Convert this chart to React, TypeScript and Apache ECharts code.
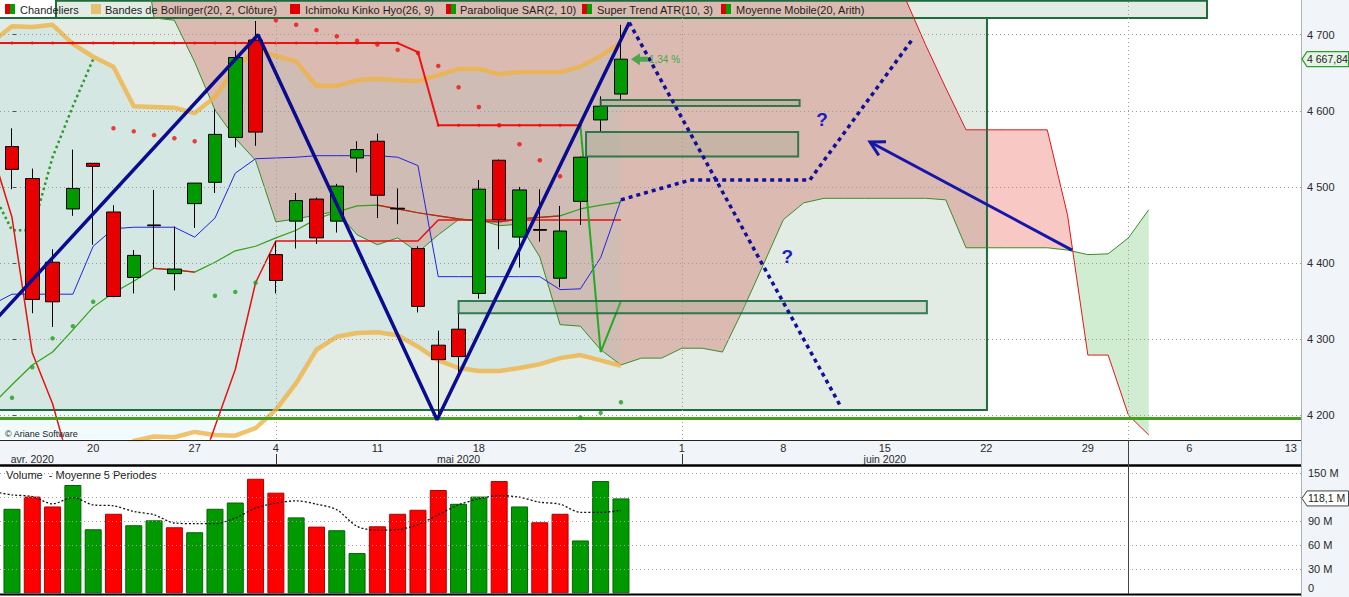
import React, { useEffect, useRef } from 'react';
import * as echarts from 'echarts';

const FONT = '"Liberation Sans", Arial, Helvetica, sans-serif';

// ---------- axes ----------
const X_MIN = -0.59;
const X_MAX = 63.5;
const P_MIN = 4168.7;
const P_MAX = 4745.6;
const V_MAX = 162.2;
const dayTickIdx = [4, 9, 13, 18, 23, 28, 33, 38, 43, 48, 53, 58, 63];
const dayTickText = ['20', '27', '4', '11', '18', '25', '1', '8', '15', '22', '29', '6', '13'];
const monthLabelIdx = [1, 22, 43];
const monthLabelText = ['avr. 2020', 'mai 2020', 'juin 2020'];
const monthStartIdx = [13, 33, 55];
const priceTicks = [4200, 4300, 4400, 4500, 4600, 4700];
const volumeTicks = [0, 30, 60, 90, 150];
const volumeGridValues = [30, 60, 90, 120, 150];

// ---------- candles (index 0 = 14 avr. 2020) ----------
const candleOpen = [4553, 4511, 4401, 4471, 4531, 4467, 4381, 4450, 4386, 4478, 4506, 4565, 4693, 4411, 4455, 4484, 4455, 4538, 4560, 4472, 4419, 4292, 4313, 4360, 4535, 4434, 4444, 4380, 4481, 4588, 4622];
const candleClose = [4523, 4352, 4349, 4498, 4527, 4356, 4410, 4449, 4392, 4505, 4569, 4670, 4572, 4377, 4482, 4433, 4501, 4549, 4489, 4471, 4343, 4273, 4277, 4497, 4457, 4496, 4443, 4442, 4539, 4606, 4667.84];
const candleLow = [4497, 4334, 4316, 4462, 4424, 4355, 4360, 4393, 4364, 4446, 4492, 4552, 4554, 4360, 4419, 4425, 4440, 4519, 4459, 4451, 4335, 4197, 4253, 4353, 4418, 4394, 4428, 4368, 4450, 4573, 4614];
const candleHigh = [4577, 4524, 4418, 4549, 4531, 4476, 4417, 4496, 4448, 4505, 4602, 4679, 4718, 4428, 4492, 4486, 4504, 4560, 4570, 4498, 4422, 4311, 4334, 4509, 4536, 4500, 4497, 4475, 4540, 4619, 4713];

// ---------- volume (millions) ----------
const volume = [105.2, 120.4, 108.1, 134.8, 79.7, 99.0, 84.7, 90.8, 82.2, 76.0, 105.2, 113.0, 142.6, 125.3, 94.5, 83.0, 78.5, 50.1, 83.4, 99.0, 104.0, 128.6, 111.4, 120.4, 139.7, 108.1, 88.4, 99.0, 65.8, 139.7, 118.1];
const volumeUp = [1, 0, 0, 1, 1, 0, 1, 1, 0, 1, 1, 1, 0, 0, 1, 0, 1, 1, 0, 0, 0, 0, 1, 1, 0, 1, 0, 0, 1, 1, 1];
const VOL_MA_START = -1;
const volumeMA5 = [127, 122.5, 120.4, 111.4, 119.2, 110.1, 108.9, 101.9, 97.8, 87.5, 86.7, 86.7, 93.7, 106.0, 112.2, 115.1, 111.0, 104.0, 83.4, 78.5, 79.3, 85.5, 97.8, 110.1, 117.5, 121.6, 119.6, 113.4, 111.0, 100.7, 100.7, 103.2];

// ---------- indicators (start index -1) ----------
const LINE_START = -1;
const tenkan = [4345, 4359, 4359, 4359, 4359, 4422, 4445, 4447, 4447, 4447, 4434, 4459, 4518, 4537, 4538, 4539, 4541, 4541, 4541, 4541, 4539, 4528, 4382, 4382, 4382, 4382, 4382, 4382, 4365, 4366, 4407, 4483];
const kijun = [4548, 4460, 4282, 4215, 4120, 4100, 4100, 4100, 4100, 4100, 4110, 4185, 4260, 4374, 4429, 4429, 4429, 4429, 4429, 4429, 4429, 4429, 4456.5, 4456.5, 4456.5, 4456.5, 4456.5, 4456.5, 4456.5, 4456.5, 4456.5, 4456.5];
const bbUpper = [4690, 4711, 4710, 4713, 4688, 4671, 4658, 4606, 4605, 4604, 4597, 4618, 4656, 4680, 4672, 4665, 4633, 4633, 4640, 4642, 4640, 4639, 4647, 4655, 4655, 4648, 4651, 4651, 4651, 4658, 4672, 4690];
const bbLower = [4000, 3980, 4000, 4050, 4100, 4130, 4150, 4166, 4172, 4171, 4178, 4174, 4173, 4183, 4207, 4242, 4286, 4303, 4308, 4309, 4305, 4290, 4272, 4262, 4258, 4258, 4262, 4267, 4275, 4279, 4272, 4265];
const ma20 = [4213, 4240, 4266, 4283, 4312, 4342, 4361, 4376, 4393, 4391, 4388, 4401, 4416, 4422, 4433, 4443, 4458, 4467, 4475, 4476, 4471, 4466, 4462, 4458, 4455, 4454, 4458, 4460, 4462, 4471, 4476, 4480];
const ma20FallingRanges = [[7, 9], [18, 27]];
const CHIKOU_START = -2;
const chikou = [4457, 4496, 4443, 4443, 4539, 4606, 4667.84];
const SS_START = -1;
const senkouA = [5150, 5100, 5050, 5000, 4980, 4950, 4920, 4900, 4722, 4719, 4664, 4601, 4564, 4535, 4454, 4458, 4463, 4468, 4437, 4424, 4433, 4414, 4437, 4457, 4457, 4449, 4451, 4408, 4319, 4317, 4286, 4266, 4275, 4275, 4288, 4288, 4283, 4338, 4397, 4457, 4479, 4485, 4485, 4485, 4485, 4485, 4485, 4483, 4420, 4420, 4420, 4420, 4420, 4417, 4411, 4412, 4433, 4470];
const senkouB = [5600, 5600, 5580, 5560, 5540, 5520, 5500, 5480, 5460, 5440, 5420, 5400, 5380, 5360, 5340, 5320, 5300, 5280, 5260, 5240, 5220, 5200, 5180, 5160, 5140, 5120, 5100, 5080, 5060, 5040, 5020, 5000, 5000, 5000, 5000, 5000, 5000, 5000, 5000, 5000, 5000, 5000, 5000, 5000, 4850, 4748, 4687, 4630, 4575, 4575, 4575, 4575, 4575, 4463, 4279, 4279, 4200, 4174];
const ST_RED_START = -1;
const superTrendRed = [4689, 4689, 4689, 4689, 4689, 4689, 4689, 4689, 4689, 4689, 4689, 4689, 4689, 4689, 4689, 4689, 4689, 4689, 4689, 4689, 4689, 4677, 4581, 4581, 4581, 4581, 4581, 4581, 4581, 4581];
const ST_GREEN_START = 28;
const superTrendGreen = [4581, 4283, 4350];
const sarValue = [4223, 4263, 4301, 4317, 4349, 4577, 4573, 4568, 4564, 4560, 4357, 4362, 4374, 4719, 4713, 4706, 4698, 4692, 4687, 4680, 4676, 4659, 4631, 4605, 4581, 4556, 4535, 4514, 4197, 4203, 4217];
const sarUp = [1, 1, 1, 1, 1, 0, 0, 0, 0, 0, 1, 1, 1, 0, 0, 0, 0, 0, 0, 0, 0, 0, 0, 0, 0, 0, 0, 0, 1, 1, 1];

// ---------- drawings ----------
const supportLevel = 4196;
const zigzag = [[-1.58, 4303], [12.12, 4700], [20.94, 4194], [30.41, 4716]];
const dottedDown = [[30.41, 4716], [40.79, 4213]];
const dottedPath = [[30.0, 4483], [33.4, 4509], [39.3, 4509], [44.33, 4693]];
const arrowLine = [[52.22, 4417, 42.27, 4559]];
const questionMarks = [[39.9, 4589], [38.2, 4408]];
const pctLabel = [[30.49, 4667.84]];
const bigRects = [[-3, 4206.8, 48.03, 4722], [2.17, 4722, 58.87, 4744.5]];
const smallRects = [[29.0, 4606.3, 38.8, 4614.2], [28.28, 4540, 38.73, 4572], [22.0, 4334, 45.07, 4350]];

const legendItems = [
  { colors: ['#e00000', '#00a000'], iconX: 5, text: 'Chandeliers', textX: 20 },
  { colors: ['#e8c074'], iconX: 91, text: 'Bandes de Bollinger(20, 2, Clôture)', textX: 105 },
  { colors: ['#e00000'], iconX: 290, text: 'Ichimoku Kinko Hyo(26, 9)', textX: 305 },
  { colors: ['#e00000', '#00a000'], iconX: 446, text: 'Parabolique SAR(2, 10)', textX: 460 },
  { colors: ['#e00000', '#00a000'], iconX: 582, text: 'Super Trend ATR(10, 3)', textX: 597 },
  { colors: ['#e00000', '#00a000'], iconX: 721, text: 'Moyenne Mobile(20, Arith)', textX: 736 },
];

const pts = (arr: number[], start: number) => arr.map((v, i) => [start + i, v]);

function fmtPrice(v: number) {
  const t = Math.floor(v / 1000);
  const r = Math.round(v - t * 1000);
  return `${t} ${String(r).padStart(3, '0')}`;
}

function cloudRuns() {
  const runs: { sign: number; a: number[][]; b: number[][] }[] = [];
  let cur: any = null;
  for (let k = 0; k < senkouA.length; k++) {
    const x = SS_START + k;
    const a = senkouA[k];
    const b = senkouB[k];
    const d = b - a;
    if (k > 0) {
      const pa = senkouA[k - 1];
      const pb = senkouB[k - 1];
      const pd = pb - pa;
      if (pd * d < 0) {
        const t = pd / (pd - d);
        const xc = x - 1 + t;
        const vc = pa + t * (a - pa);
        cur.a.push([xc, vc]);
        cur.b.push([xc, vc]);
        runs.push(cur);
        cur = { sign: d >= 0 ? 1 : -1, a: [[xc, vc]], b: [[xc, vc]] };
      }
    }
    if (!cur) cur = { sign: d >= 0 ? 1 : -1, a: [], b: [] };
    cur.a.push([x, a]);
    cur.b.push([x, b]);
  }
  runs.push(cur);
  return runs;
}

function lineSeries(data: any[], color: string, width: number, z: number, extra: any = {}) {
  return {
    type: 'line',
    xAxisIndex: 0,
    yAxisIndex: 0,
    data,
    showSymbol: false,
    symbol: 'none',
    silent: true,
    z,
    lineStyle: { color, width, ...(extra.lineStyle || {}) },
    ...Object.fromEntries(Object.entries(extra).filter(([k]) => k !== 'lineStyle')),
  };
}

function rectRenderer(fill: string, stroke: string, lw: number) {
  return (params: any, api: any) => {
    const a = api.coord([api.value(0), api.value(3)]);
    const b = api.coord([api.value(2), api.value(1)]);
    return {
      type: 'rect',
      shape: { x: a[0], y: a[1], width: b[0] - a[0], height: b[1] - a[1] },
      style: { fill, stroke, lineWidth: lw },
    };
  };
}

function buildOption() {
  const runs = cloudRuns();
  const series: any[] = [];

  // Ichimoku cloud fill
  series.push({
    type: 'custom', xAxisIndex: 0, yAxisIndex: 0, z: 1, clip: true, silent: true,
    data: [[0, 4400]],
    renderItem: (params: any, api: any) => ({
      type: 'group',
      children: runs.map((r) => ({
        type: 'polygon',
        shape: { points: r.a.concat(r.b.slice().reverse()).map((p) => api.coord(p)) },
        style: { fill: r.sign > 0 ? 'rgba(235,110,100,0.38)' : 'rgba(90,190,90,0.28)' },
      })),
    }),
  });
  // Bollinger fill
  series.push({
    type: 'custom', xAxisIndex: 0, yAxisIndex: 0, z: 1, clip: true, silent: true,
    data: [[0, 4400]],
    renderItem: (params: any, api: any) => ({
      type: 'polygon',
      shape: {
        points: pts(bbUpper, LINE_START).concat(pts(bbLower, LINE_START).reverse()).map((p) => api.coord(p)),
      },
      style: { fill: 'rgba(140,210,230,0.12)' },
    }),
  });
  // big green rectangles
  series.push({
    type: 'custom', xAxisIndex: 0, yAxisIndex: 0, z: 2, clip: true, silent: true,
    data: bigRects, encode: { x: [0, 2], y: [1, 3] },
    renderItem: rectRenderer('rgba(20,100,40,0.12)', '#1d6b3e', 2),
  });
  // price grid lines
  series.push({
    type: 'line', xAxisIndex: 0, yAxisIndex: 0, z: 2, silent: true, data: [[-10, 3000]], symbol: 'none',
    markLine: {
      silent: true, symbol: ['none', 'none'], label: { show: false },
      lineStyle: { type: [1, 3], color: '#9c9c9c', width: 1 },
      data: priceTicks.map((v) => ({ yAxis: v })).concat(monthStartIdx.map((i) => ({ xAxis: i }) as any)),
    },
  });
  // Ichimoku span lines
  series.push(lineSeries(pts(senkouA, SS_START), '#3c8c28', 1, 3));
  series.push(lineSeries(pts(senkouB, SS_START), '#e01818', 1, 3));
  // Bollinger bands
  series.push(lineSeries(pts(bbUpper, LINE_START), 'rgba(238,178,66,0.78)', 4.5, 3));
  series.push(lineSeries(pts(bbLower, LINE_START), 'rgba(238,178,66,0.78)', 4.5, 3));
  // Chikou
  series.push(lineSeries(pts(chikou, CHIKOU_START), '#2a9a2a', 2.5, 4, { lineStyle: { type: [2.5, 3] } }));
  // Kijun / Tenkan
  series.push(lineSeries(pts(kijun, LINE_START), '#e81010', 1.5, 4));
  series.push(lineSeries(pts(tenkan, LINE_START), '#2323e0', 1, 4));
  // MA20 (green, red where falling)
  series.push(lineSeries(pts(ma20, LINE_START), '#33a01a', 1.2, 4));
  ma20FallingRanges.forEach(([s, e]) => {
    const seg = pts(ma20, LINE_START).filter((p) => p[0] >= s && p[0] <= e);
    series.push(lineSeries(seg, '#d01818', 1.2, 4));
  });
  // Super Trend
  series.push(lineSeries(pts(superTrendRed, ST_RED_START), '#ee1111', 2, 4, {
    showSymbol: true, symbol: 'circle', symbolSize: 3, itemStyle: { color: '#ee1111' },
  }));
  series.push(lineSeries(pts(superTrendGreen, ST_GREEN_START), '#22aa22', 2, 4));
  // candles
  series.push({
    type: 'candlestick', xAxisIndex: 0, yAxisIndex: 0, z: 5, silent: true, barWidth: 14,
    data: candleOpen.map((o, i) => [i, o, candleClose[i], candleLow[i], candleHigh[i]]),
    itemStyle: { color: '#009a00', color0: '#e60000', borderColor: '#000', borderColor0: '#000', borderWidth: 1 },
  });
  // SAR
  series.push({
    type: 'scatter', xAxisIndex: 0, yAxisIndex: 0, z: 6, silent: true, symbolSize: 4.5,
    data: sarValue.map((v, i) => (sarUp[i] ? [i, v] : null)).filter(Boolean),
    itemStyle: { color: '#1fa01f' },
  });
  series.push({
    type: 'scatter', xAxisIndex: 0, yAxisIndex: 0, z: 6, silent: true, symbolSize: 4.5,
    data: sarValue.map((v, i) => (!sarUp[i] ? [i, v] : null)).filter(Boolean),
    itemStyle: { color: '#ee1111' },
  });
  // small rectangles
  series.push({
    type: 'custom', xAxisIndex: 0, yAxisIndex: 0, z: 7, clip: true, silent: true,
    data: smallRects, encode: { x: [0, 2], y: [1, 3] },
    renderItem: rectRenderer('rgba(150,170,140,0.3)', 'rgba(25,105,60,0.85)', 2),
  });
  // support line
  series.push({
    type: 'line', xAxisIndex: 0, yAxisIndex: 0, z: 7, silent: true, data: [[-10, 3000]], symbol: 'none',
    markLine: {
      silent: true, symbol: ['none', 'none'], label: { show: false },
      lineStyle: { type: 'solid', color: '#46a01e', width: 3 },
      data: [{ yAxis: supportLevel }],
    },
  });
  // zigzag + projections
  series.push(lineSeries(zigzag, '#0b0b8f', 3.5, 8));
  series.push(lineSeries(dottedDown, '#10109a', 3.5, 8, { lineStyle: { type: [4, 4] } }));
  series.push(lineSeries(dottedPath, '#10109a', 3.5, 8, { lineStyle: { type: [4, 4] } }));
  // arrow
  series.push({
    type: 'custom', xAxisIndex: 0, yAxisIndex: 0, z: 8, clip: true, silent: true,
    data: arrowLine, encode: { x: [0, 2], y: [1, 3] },
    renderItem: (params: any, api: any) => {
      const p0 = api.coord([api.value(0), api.value(1)]);
      const p1 = api.coord([api.value(2), api.value(3)]);
      const ang = Math.atan2(p1[1] - p0[1], p1[0] - p0[0]);
      const L = 16;
      const a = 0.5;
      const h1 = [p1[0] - L * Math.cos(ang - a), p1[1] - L * Math.sin(ang - a)];
      const h2 = [p1[0] - L * Math.cos(ang + a), p1[1] - L * Math.sin(ang + a)];
      return {
        type: 'group',
        children: [
          { type: 'line', shape: { x1: p0[0], y1: p0[1], x2: p1[0], y2: p1[1] }, style: { stroke: '#1616a8', lineWidth: 3 } },
          { type: 'polyline', shape: { points: [h1, p1, h2] }, style: { stroke: '#1616a8', lineWidth: 3, fill: null } },
        ],
      };
    },
  });
  // question marks
  series.push({
    type: 'custom', xAxisIndex: 0, yAxisIndex: 0, z: 9, clip: true, silent: true,
    data: questionMarks,
    renderItem: (params: any, api: any) => {
      const p = api.coord([api.value(0), api.value(1)]);
      return {
        type: 'text', x: p[0], y: p[1],
        style: {
          text: '?', fill: '#1c1cc4', font: `bold 19px ${FONT}`,
          align: 'center', verticalAlign: 'middle', textAlign: 'center', textVerticalAlign: 'middle',
        },
      };
    },
  });
  // percent change label
  series.push({
    type: 'custom', xAxisIndex: 0, yAxisIndex: 0, z: 9, clip: true, silent: true,
    data: pctLabel,
    renderItem: (params: any, api: any) => {
      const p = api.coord([api.value(0), api.value(1)]);
      const x = p[0];
      const y = p[1];
      return {
        type: 'group',
        children: [
          {
            type: 'polygon',
            shape: { points: [[x, y], [x + 9, y - 6], [x + 9, y - 2.5], [x + 17, y - 2.5], [x + 17, y + 2.5], [x + 9, y + 2.5], [x + 9, y + 6]] },
            style: { fill: '#4aa84a' },
          },
          {
            type: 'text', x: x + 18, y,
            style: {
              text: '1,34 %', fill: '#4aa84a', font: `10px ${FONT}`,
              align: 'left', verticalAlign: 'middle', textAlign: 'left', textVerticalAlign: 'middle',
            },
          },
        ],
      };
    },
  });

  // ---------- volume pane ----------
  series.push({
    type: 'line', xAxisIndex: 2, yAxisIndex: 1, z: 1, silent: true, data: [[-10, -10]], symbol: 'none',
    markLine: {
      silent: true, symbol: ['none', 'none'], label: { show: false },
      lineStyle: { type: [1, 3], color: '#9c9c9c', width: 1 },
      data: volumeGridValues.map((v) => ({ yAxis: v })),
    },
  });
  series.push({
    type: 'bar', xAxisIndex: 2, yAxisIndex: 1, z: 3, silent: true, barWidth: 17,
    data: volume.map((v, i) => ({
      value: [i, v],
      itemStyle: {
        color: volumeUp[i] ? '#009a00' : '#ff0000',
        borderColor: volumeUp[i] ? '#006400' : '#b00000',
        borderWidth: 1,
      },
    })),
  });
  series.push({
    type: 'line', xAxisIndex: 2, yAxisIndex: 1, z: 4, silent: true, symbol: 'none', showSymbol: false,
    smooth: 0.3,
    data: pts(volumeMA5, VOL_MA_START),
    lineStyle: { color: '#111', width: 1.3, type: [2, 2] },
  });

  const axisFont = { color: '#2a2a2a', fontSize: 11, fontFamily: FONT };
  return {
    animation: false,
    backgroundColor: '#ffffff',
    grid: [
      { left: 0, top: 0, width: 1301, height: 439, containLabel: false, outerBoundsMode: 'none', show: false },
      { left: 0, top: 463, width: 1301, height: 130.3, containLabel: false, outerBoundsMode: 'none', show: false },
    ],
    xAxis: [
      {
        type: 'value', gridIndex: 0, min: X_MIN, max: X_MAX, position: 'bottom',
        axisLine: { show: false }, axisTick: { show: false }, splitLine: { show: false },
        axisLabel: {
          ...axisFont, margin: 3, customValues: dayTickIdx,
          formatter: (v: number) => dayTickText[dayTickIdx.indexOf(Math.round(v))] ?? '',
        },
      },
      {
        type: 'value', gridIndex: 0, min: X_MIN, max: X_MAX, position: 'bottom', offset: 0,
        axisLine: { show: false }, axisTick: { show: false }, splitLine: { show: false },
        axisLabel: {
          ...axisFont, fontSize: 10.5, margin: 14.5, customValues: monthLabelIdx,
          formatter: (v: number) => monthLabelText[monthLabelIdx.indexOf(Math.round(v))] ?? '',
        },
      },
      {
        type: 'value', gridIndex: 1, min: X_MIN, max: X_MAX, show: false,
        axisLine: { show: false }, axisTick: { show: false }, splitLine: { show: false }, axisLabel: { show: false },
      },
    ],
    yAxis: [
      {
        type: 'value', gridIndex: 0, position: 'right', min: P_MIN, max: P_MAX,
        axisLine: { show: false }, splitLine: { show: false },
        axisTick: { show: true, customValues: priceTicks, length: 4, lineStyle: { color: '#444' } },
        axisLabel: { ...axisFont, margin: 6, customValues: priceTicks, formatter: (v: number) => fmtPrice(v) },
      },
      {
        type: 'value', gridIndex: 1, position: 'right', min: 0, max: V_MAX,
        axisLine: { show: false }, splitLine: { show: false },
        axisTick: { show: false },
        axisLabel: {
          ...axisFont, margin: 7, customValues: volumeTicks, verticalAlignMinLabel: 'bottom',
          formatter: (v: number) => (v === 0 ? '0' : `${v} M`),
        },
      },
    ],
    series,
  };
}

function buildGraphic(tagY: number, volTagY: number, monthX: number[]) {
  const W = 1349;
  const PW = 1301;
  const els: any[] = [];
  els.push({ type: 'rect', z: -10, silent: true, shape: { x: PW, y: 0, width: W - PW, height: 597 }, style: { fill: '#f1f4f9' } });
  els.push({ type: 'rect', z: -10, silent: true, shape: { x: 0, y: 440, width: PW, height: 24 }, style: { fill: '#f1f4f9' } });
  els.push({ type: 'line', z: 50, silent: true, shape: { x1: 0, y1: 440.5, x2: PW, y2: 440.5 }, style: { stroke: '#222', lineWidth: 1 } });
  els.push({ type: 'line', z: 50, silent: true, shape: { x1: 0, y1: 465.5, x2: PW, y2: 465.5 }, style: { stroke: '#000', lineWidth: 2.5 } });
  els.push({ type: 'line', z: 50, silent: true, shape: { x1: 0, y1: 594.5, x2: PW, y2: 594.5 }, style: { stroke: '#000', lineWidth: 2 } });
  els.push({ type: 'line', z: 50, silent: true, shape: { x1: PW + 0.5, y1: 0, x2: PW + 0.5, y2: 597 }, style: { stroke: '#a9b0b8', lineWidth: 1 } });
  monthX.forEach((x, i) => {
    const xx = Math.round(x) + 0.5;
    if (i < 2) {
      els.push({ type: 'line', z: 50, silent: true, shape: { x1: xx, y1: 454, x2: xx, y2: 464 }, style: { stroke: '#333', lineWidth: 1 } });
    } else {
      els.push({ type: 'line', z: 50, silent: true, shape: { x1: xx, y1: 440, x2: xx, y2: 594 }, style: { stroke: '#444', lineWidth: 1 } });
    }
  });
  // legend
  legendItems.forEach((it) => {
    const w = 10 / it.colors.length;
    it.colors.forEach((c, k) => {
      els.push({ type: 'rect', z: 60, silent: true, shape: { x: it.iconX + k * w, y: 4, width: w, height: 10 }, style: { fill: c } });
    });
    els.push({
      type: 'text', z: 60, silent: true, x: it.textX, y: 9.5,
      style: { text: it.text, fill: '#1e1e1e', font: `11px ${FONT}`, verticalAlign: 'middle', textVerticalAlign: 'middle' },
    });
  });
  els.push({
    type: 'text', z: 60, silent: true, x: 6, y: 475,
    style: { text: 'Volume  - Moyenne 5 Periodes', fill: '#1e1e1e', font: `11px ${FONT}`, verticalAlign: 'middle', textVerticalAlign: 'middle' },
  });
  els.push({
    type: 'text', z: 60, silent: true, x: 5, y: 434,
    style: { text: '© Ariane Software', fill: '#222', font: `9px ${FONT}`, verticalAlign: 'middle', textVerticalAlign: 'middle' },
  });
  // price tag
  els.push({
    type: 'polygon', z: 60, silent: true,
    shape: { points: [[PW + 1, tagY], [PW + 6, tagY - 7.5], [W - 0.5, tagY - 7.5], [W - 0.5, tagY + 7.5], [PW + 6, tagY + 7.5]] },
    style: { fill: '#e6f4e6', stroke: '#2f9e2f', lineWidth: 1.2 },
  });
  els.push({
    type: 'text', z: 61, silent: true, x: PW + 6, y: tagY,
    style: { text: '4 667,84', fill: '#1e1e1e', font: `10.5px ${FONT}`, verticalAlign: 'middle', textVerticalAlign: 'middle' },
  });
  // volume tag
  els.push({
    type: 'polygon', z: 60, silent: true,
    shape: { points: [[PW + 1, volTagY], [PW + 6, volTagY - 7.5], [W - 0.5, volTagY - 7.5], [W - 0.5, volTagY + 7.5], [PW + 6, volTagY + 7.5]] },
    style: { fill: '#ffffff', stroke: '#444', lineWidth: 1 },
  });
  els.push({
    type: 'text', z: 61, silent: true, x: PW + 7, y: volTagY,
    style: { text: '118,1 M', fill: '#1e1e1e', font: `10.5px ${FONT}`, verticalAlign: 'middle', textVerticalAlign: 'middle' },
  });
  return els;
}

export default function App() {
  const ref = useRef<HTMLDivElement>(null);
  useEffect(() => {
    const chart = echarts.init(ref.current as HTMLDivElement, null, { renderer: 'svg' });
    chart.setOption(buildOption() as any);
    const tagY = (chart.convertToPixel({ gridIndex: 0 } as any, [0, candleClose[candleClose.length - 1]]) as number[])[1];
    const volTagY = (chart.convertToPixel({ gridIndex: 1 } as any, [0, volume[volume.length - 1]]) as number[])[1];
    const monthX = monthStartIdx.map((i) => (chart.convertToPixel({ gridIndex: 0 } as any, [i, 4400]) as number[])[0]);
    chart.setOption({ graphic: buildGraphic(tagY, volTagY, monthX) } as any);
    return () => chart.dispose();
  }, []);
  return (
    <div
      ref={ref}
      style={{ position: 'fixed', left: 0, top: 0, width: '1349px', height: '597px', background: '#fff' }}
    />
  );
}
